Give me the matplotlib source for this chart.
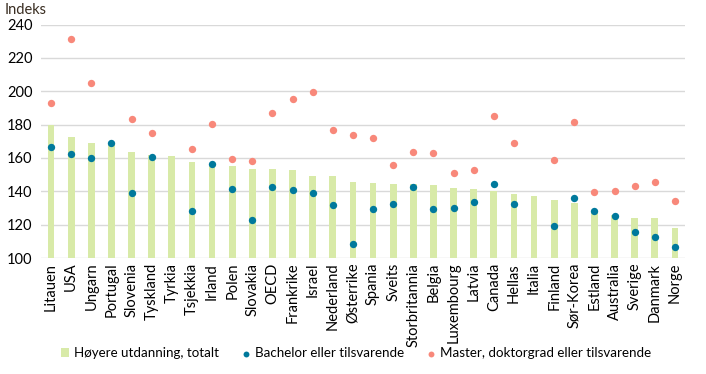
import matplotlib
matplotlib.use("Agg")
import matplotlib.pyplot as plt
import numpy as np

# data
countries = ['Litauen', 'USA', 'Ungarn', 'Portugal', 'Slovenia', 'Tyskland', 'Tyrkia',
             'Tsjekkia', 'Irland', 'Polen', 'Slovakia', 'OECD', 'Frankrike', 'Israel',
             'Nederland', 'Østerrike', 'Spania', 'Sveits', 'Storbritannia', 'Belgia',
             'Luxembourg', 'Latvia', 'Canada', 'Hellas', 'Italia', 'Finland', 'Sør-Korea',
             'Estland', 'Australia', 'Sverige', 'Danmark', 'Norge']

total = [179.6, 172.6, 168.8, 167.5, 163.4, 162.0, 161.2, 157.5, 155.8, 155.2, 153.3, 153.5,
         152.7, 149.1, 149.1, 145.5, 144.9, 144.3, 144.3, 143.7, 141.9, 141.3, 139.9, 138.3,
         137.1, 134.7, 132.9, 128.0, 126.0, 123.9, 123.9, 118.0]

bachelor = [166.8, 162.4, 159.7, 169.2, 139.1, 160.3, np.nan, 127.9, 156.1, 141.1, 122.6, 142.3,
            140.5, 138.7, 131.5, 108.2, 129.1, 132.1, 142.3, 129.1, 129.7, 133.3, 144.1, 132.1,
            np.nan, 119.3, 135.7, 127.9, 125.3, 115.4, 112.4, 106.4]

master = [193.2, 231.5, 205.1, np.nan, 183.6, 175.2, np.nan, 165.6, 180.6, 159.1, 157.9, 187.2,
          195.6, 199.8, 177.0, 174.0, 172.2, 155.5, 163.8, 163.2, 150.7, 152.5, 185.4, 169.2,
          np.nan, 158.5, 181.8, 139.3, 139.9, 142.9, 145.3, 133.9]

plt.rcParams['font.family'] = ['Lato', 'DejaVu Sans']

fig = plt.figure(figsize=(7.06, 3.74), dpi=100)
ax = fig.add_axes([41 / 706, 1 - 258 / 374, 644 / 706, (258 - 24.5) / 374])

x = np.arange(len(countries))
b = ax.bar(x, [t - 100 for t in total], bottom=100, width=0.34, color='#d8eaa8',
           label='Høyere utdanning, totalt', zorder=2)
s1 = ax.scatter(x, bachelor, s=28, color='#00799c', label='Bachelor eller tilsvarende', zorder=3,
                linewidths=0)
s2 = ax.scatter(x, master, s=28, color='#f8887a', label='Master, doktorgrad eller tilsvarende',
                zorder=3, linewidths=0)

ax.set_ylim(100, 240)
ax.set_xlim(-0.5, len(countries) - 0.5)
ax.set_yticks(range(100, 241, 20))
ax.grid(axis='y', color='#d9d9d9', linewidth=1, zorder=0)
ax.set_axisbelow(True)
for sp in ax.spines.values():
    sp.set_visible(False)
ax.tick_params(axis='both', length=0, labelsize=10.5, colors='black')
ax.tick_params(axis='y', pad=6)
ax.set_xticks(x)
ax.set_xticklabels(countries, rotation=90)

fig.text(5 / 706, 1 - 10 / 374, 'Indeks', fontsize=10.5, color='#3a2e22', va='center', ha='left')

fig.legend(handles=[b, s1, s2], loc='center', bbox_to_anchor=(356 / 706, 1 - 353 / 374), ncol=3,
           frameon=False, fontsize=9.6, handlelength=0.6, handleheight=0.6, handletextpad=0.4,
           columnspacing=1.7, markerscale=0.8)

fig.savefig('out.png', dpi=100)
